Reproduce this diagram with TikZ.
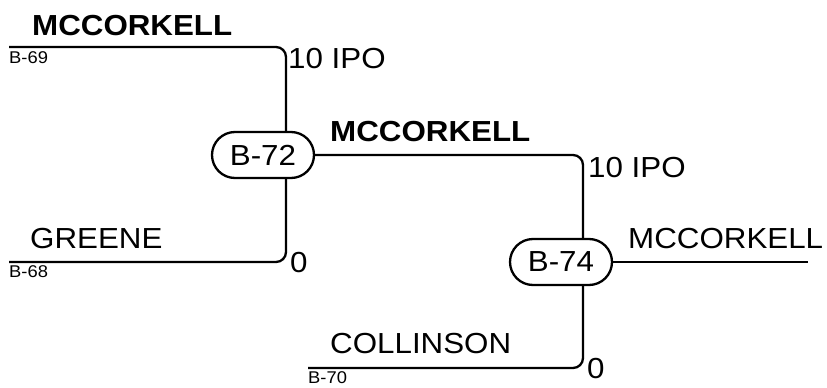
\documentclass[tikz,border=0pt]{standalone}
\usepackage{fontspec}
\setmainfont[FakeStretch=1.08]{Liberation Sans}
\begin{document}
\begin{tikzpicture}[x=1pt,y=-1pt,
  wire/.style={line width=2.3pt,rounded corners=10pt},
  match/.style={draw,line width=2.3pt,rounded corners=23pt,minimum width=102pt,minimum height=46pt,inner sep=0pt,font=\fontsize{29}{30}\selectfont},
  big/.style={anchor=base west,inner sep=0pt,font=\fontsize{29}{30}\selectfont},
  bigb/.style={anchor=base west,inner sep=0pt,font=\fontsize{29}{30}\selectfont\bfseries},
  small/.style={anchor=base west,inner sep=0pt,font=\fontsize{17}{18}\selectfont}]
\useasboundingbox (0,0) rectangle (827,388);
\node[match] (b72) at (263,155) {B-72};
\node[match] (b74) at (561,262) {B-74};
\coordinate (s69) at (9,47);
\coordinate (s68) at (9,262);
\coordinate (s70) at (308,368);
\coordinate (v72) at (286,0);
\coordinate (v74) at (583,0);
\coordinate (e74) at (808,262);
\draw[wire] (s69) -| (b72.north -| v72);
\draw[wire] (s68) -| (b72.south -| v72);
\draw[wire] (b72.east) -| (b74.north -| v74);
\draw[wire] (s70) -| (b74.south -| v74);
\draw[wire] (b74.east) -- (e74);
\node[bigb] (t1) at (32,35) {MCCORKELL};
\node[small] (t2) at (9,63) {B-69};
\node[big] (t3) at (288,68) {10 IPO};
\node[bigb] (t4) at (330,141) {MCCORKELL};
\node[big] (t5) at (588,177) {10 IPO};
\node[big] (t6) at (30,248) {GREENE};
\node[small] (t7) at (9,277) {B-68};
\node[big] (t8) at (290,272) {0};
\node[big] (t9) at (628,248) {MCCORKELL};
\node[big] (t10) at (330,353) {COLLINSON};
\node[small] (t11) at (308,383) {B-70};
\node[big] (t12) at (587,378) {0};
\end{tikzpicture}
\end{document}
